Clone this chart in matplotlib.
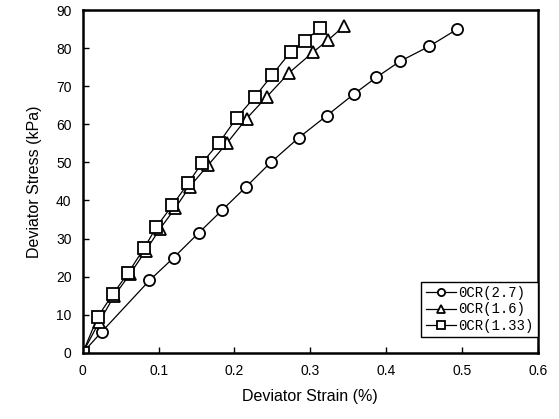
import matplotlib.pyplot as plt

plt.rcParams['font.family'] = ['Liberation Sans', 'DejaVu Sans']

# OCR 2.7
strain_27 = [0, 0.025, 0.088, 0.120, 0.153, 0.184, 0.215, 0.248, 0.285, 0.322, 0.358, 0.387, 0.418, 0.457, 0.494]
stress_27 = [0, 5.5, 19.0, 25.0, 31.5, 37.5, 43.5, 50.0, 56.5, 62.3, 68.0, 72.3, 76.5, 80.5, 85.0]

# OCR 1.6
strain_16 = [0, 0.022, 0.041, 0.062, 0.083, 0.102, 0.122, 0.141, 0.165, 0.190, 0.216, 0.243, 0.272, 0.304, 0.324, 0.344]
stress_16 = [0, 8.2, 14.8, 20.6, 26.8, 32.6, 38.0, 43.6, 49.2, 55.0, 61.5, 67.3, 73.5, 79.0, 82.2, 85.7]

# OCR 1.33
strain_133 = [0, 0.020, 0.040, 0.060, 0.081, 0.097, 0.118, 0.139, 0.157, 0.180, 0.203, 0.227, 0.250, 0.274, 0.293, 0.313]
stress_133 = [0, 9.5, 15.5, 21.0, 27.5, 33.0, 38.7, 44.5, 49.8, 55.2, 61.7, 67.2, 73.0, 79.0, 81.8, 85.4]

labels = ['0CR(2.7)', '0CR(1.6)', '0CR(1.33)']

fig = plt.figure(figsize=(5.59, 4.19), dpi=100)
ax = fig.add_axes([0.148, 0.158, 0.814, 0.818])

mk = dict(color='black', lw=0.9, mfc='white', mec='black', mew=1.3)
ax.plot(strain_27, stress_27, marker='o', ms=8, label=labels[0], **mk)
ax.plot(strain_16, stress_16, marker='^', ms=8.5, label=labels[1], **mk)
ax.plot(strain_133, stress_133, marker='s', ms=8, label=labels[2], **mk)

ax.set_xlim(0, 0.6)
ax.set_ylim(0, 90)
ax.set_xticks([0, 0.1, 0.2, 0.3, 0.4, 0.5, 0.6])
ax.set_xticklabels(['0', '0.1', '0.2', '0.3', '0.4', '0.5', '0.6'])
ax.set_yticks(range(0, 91, 10))
ax.tick_params(direction='in', length=4, width=1, labelsize=10, pad=8)
for s in ax.spines.values():
    s.set_linewidth(1.8)

ax.set_xlabel('Deviator Strain (%)', fontsize=11.5, labelpad=8)
ax.set_ylabel('Deviator Stress (kPa)', fontsize=11.5, labelpad=10)

leg = ax.legend(loc='lower right', bbox_to_anchor=(1.0, 0.047),
                prop={'family': 'Liberation Mono', 'size': 10},
                frameon=True, fancybox=False, edgecolor='black', framealpha=1,
                borderaxespad=0, handlelength=2.2, handletextpad=0.15,
                labelspacing=0.15, borderpad=0.3, markerscale=0.65)
leg.get_frame().set_linewidth(1.0)

fig.savefig('out.png', dpi=100)
